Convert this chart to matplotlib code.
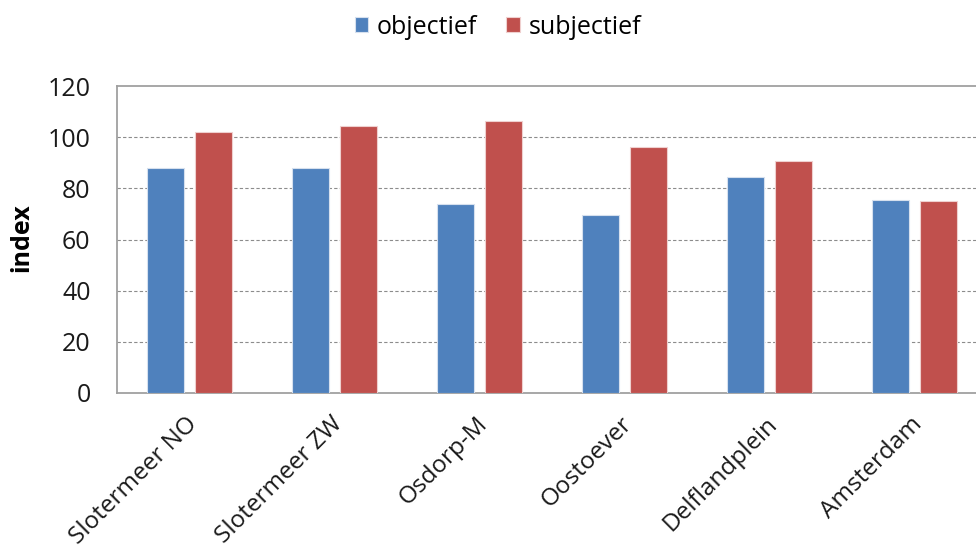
import matplotlib
matplotlib.use("Agg")
import matplotlib.pyplot as plt
import matplotlib.transforms as mtransforms
import numpy as np

categories = ["Slotermeer NO", "Slotermeer ZW", "Osdorp-M", "Oostoever", "Delflandplein", "Amsterdam"]
objectief = [88, 88, 74, 69.5, 84.5, 75.5]
subjectief = [102, 104.5, 106.5, 96, 90.5, 75]
yticks = [0, 20, 40, 60, 80, 100, 120]

plt.rcParams["font.family"] = ["Open Sans", "DejaVu Sans"]

W, H = 976, 552
fig = plt.figure(figsize=(W / 100, H / 100), dpi=100)
ax = fig.add_axes([117 / W, (H - 393) / H, (987 - 117) / W, (393 - 86) / H])

x = np.arange(len(categories))
bw = 0.262
off = 0.1655
ax.bar(x - off, objectief, bw, color="#4F81BD", edgecolor="#D6E0EE", linewidth=0.8,
       label="objectief", zorder=3)
ax.bar(x + off, subjectief, bw, color="#C0504D", edgecolor="#EFD0CF", linewidth=0.8,
       label="subjectief", zorder=3)

ax.set_xlim(-0.5, len(categories) - 0.5)
ax.set_ylim(0, 120)
ax.set_yticks(yticks)
ax.set_yticklabels([str(t) for t in yticks], fontsize=18, color="#1a1a1a")
ax.set_xticks(x)
ax.set_xticklabels(categories, rotation=45, ha="right", rotation_mode="anchor",
                   fontsize=17.5, color="#1a1a1a")
ax.tick_params(axis="y", length=0, pad=19)
ax.tick_params(axis="x", length=0, pad=14)

# nudge the rotated category labels slightly to the left
shift = mtransforms.ScaledTranslation(-4 / 100, 0, fig.dpi_scale_trans)
for lbl in ax.get_xticklabels():
    lbl.set_transform(lbl.get_transform() + shift)

for t in yticks[1:-1]:
    ax.axhline(t, color="#8c8c8c", linestyle=(0, (3, 2)), linewidth=0.8, zorder=1)

for s in ax.spines.values():
    s.set_color("#a0a0a0")
    s.set_linewidth(1.3)

fig.text(22 / W, 1 - 238 / H, "index", rotation=90, ha="center", va="center",
         fontsize=18, fontweight="bold", color="#000000")

fig.legend(loc="center", bbox_to_anchor=(498 / W, 1 - 27 / H), ncol=2, frameon=False,
           fontsize=18, handlelength=0.55, handleheight=0.55, handletextpad=0.35,
           columnspacing=1.15)

fig.savefig("out.png", dpi=100)
